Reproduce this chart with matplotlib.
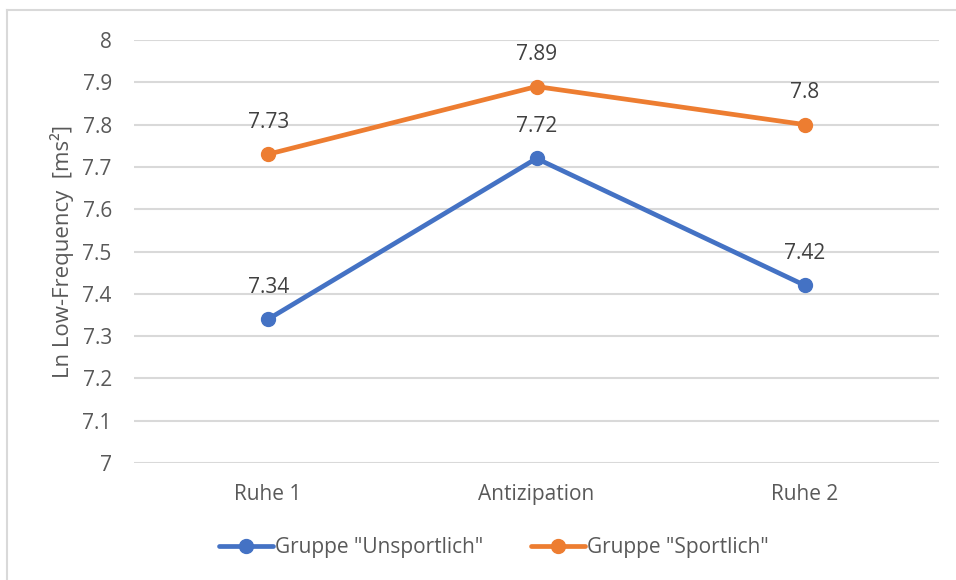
import matplotlib
matplotlib.use("Agg")
import matplotlib.pyplot as plt
from matplotlib.lines import Line2D

categories = ["Ruhe 1", "Antizipation", "Ruhe 2"]
unsportlich = [7.34, 7.72, 7.42]
sportlich = [7.73, 7.89, 7.80]
series_names = ['Gruppe "Unsportlich"', 'Gruppe "Sportlich"']
yticks = [7, 7.1, 7.2, 7.3, 7.4, 7.5, 7.6, 7.7, 7.8, 7.9, 8]
ytick_labels = ["7", "7.1", "7.2", "7.3", "7.4", "7.5", "7.6", "7.7", "7.8", "7.9", "8"]

plt.rcParams['font.family'] = ['Open Sans', 'DejaVu Sans']
txt = '#595959'

fig = plt.figure(figsize=(9.56, 5.80), dpi=100)
ax = fig.add_axes([134/956, 1-463/580, (939-134)/956, (463-40)/580])

x = list(range(len(categories)))
blue = '#4472C4'
orange = '#ED7D31'
for vals, col, name in [(unsportlich, blue, series_names[0]), (sportlich, orange, series_names[1])]:
    ax.plot(x, vals, color=col, lw=3.4, marker='o', ms=10, label=name, solid_capstyle='round', zorder=3)
    for xi, v in zip(x, vals):
        ax.annotate(f"{v:g}", (xi, v), xytext=(0, 23), textcoords='offset points',
                    ha='center', va='center', fontsize=15, color='#404040')

ax.set_xlim(-0.5, 2.5)
ax.set_ylim(7, 8)
ax.set_yticks(yticks)
ax.set_yticklabels(ytick_labels)
ax.set_xticks(x)
ax.set_xticklabels(categories)
ax.tick_params(axis='both', length=0, labelsize=15, labelcolor=txt)
ax.tick_params(axis='y', pad=16)
ax.tick_params(axis='x', pad=15)
ax.grid(axis='y', color='#D9D9D9', lw=1.5)
ax.set_axisbelow(True)
for s in ax.spines.values():
    s.set_visible(False)
ax.set_ylabel("Ln Low-Frequency  [ms²]", fontsize=16, color=txt)
ax.yaxis.set_label_coords(-0.075, 0.5)

leg = fig.legend(loc='center', bbox_to_anchor=(494/956, 1-548/580), ncol=2, frameon=False,
                 fontsize=15, labelcolor=txt, handlelength=2.6, handletextpad=0.1, columnspacing=2.3)

fig.add_artist(Line2D([7/956, 1], [1-10/580, 1-10/580], color='#D9D9D9', lw=1.5, transform=fig.transFigure))
fig.add_artist(Line2D([7/956, 7/956], [0, 1-10/580], color='#D9D9D9', lw=1.5, transform=fig.transFigure))

fig.savefig("out.png", dpi=100)
